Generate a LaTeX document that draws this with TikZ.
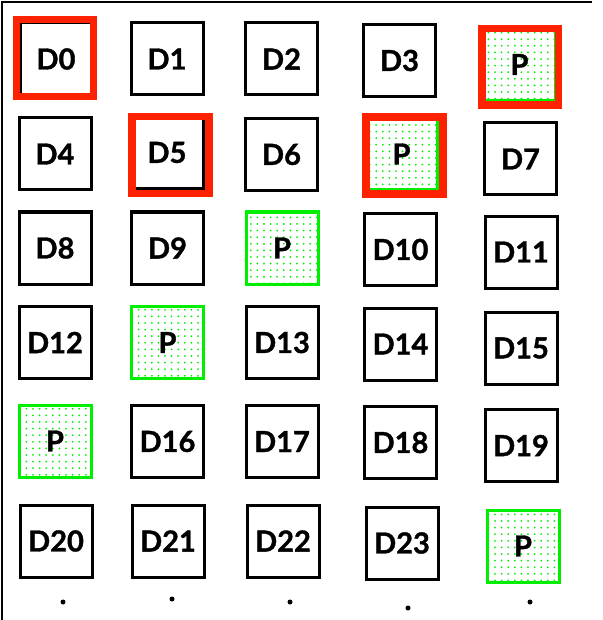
\documentclass[tikz,border=0pt]{standalone}
\usepackage{fontspec}
\setmainfont{Lato}[BoldFeatures={FakeBold=1.2}]
\usetikzlibrary{patterns}
\pgfdeclarepatternformonly{gdots}{\pgfqpoint{-1.2pt}{-1.2pt}}{\pgfqpoint{1.2pt}{1.2pt}}{\pgfqpoint{6.6pt}{6.6pt}}{\pgfpathcircle{\pgfqpoint{0pt}{0pt}}{1pt}\pgfusepath{fill}}
\definecolor{fred}{HTML}{FF2200}
\definecolor{fgreen}{HTML}{00EE00}
\tikzset{
  dbox/.style={draw=black, line width=3pt, minimum width=72pt, minimum height=72pt, inner sep=0pt, font=\fontsize{29}{29}\selectfont\bfseries, fill=white},
  pbox/.style={dbox, draw=fgreen, pattern=gdots, pattern color=fgreen},
  rframe/.style={draw=fred, line width=7.5pt, minimum width=77pt, minimum height=77pt, inner sep=0pt},
  frameline/.style={line width=2pt, draw=black},
  enddot/.style={circle, fill=black, inner sep=0pt, minimum size=5pt}
}
\begin{document}
\begin{tikzpicture}[x=1pt,y=-1pt]
\useasboundingbox (0,0) rectangle (602,620);
\coordinate (tl) at (2,2);
\coordinate (tr) at (592,2);
\coordinate (bl) at (2,620);
\draw[frameline] (tr) -- (tl) -- (bl);
% row 1
\node[dbox] (d0) at (56,59) {D0};
\node[dbox] (d1) at (167,59) {D1};
\node[dbox] (d2) at (281.5,59) {D2};
\node[dbox] (d3) at (399.5,60.5) {D3};
\node[pbox] (p0) at (519.5,64.5) {P};
% row 2
\node[dbox] (d4) at (55,154) {D4};
\node[dbox] (d5) at (167,152.5) {D5};
\node[dbox] (d6) at (281.5,154.5) {D6};
\node[pbox] (p1) at (401.5,154) {P};
\node[dbox] (d7) at (520.5,159) {D7};
% row 3
\node[dbox] (d8) at (55,248) {D8};
\node[dbox] (d9) at (167.5,248) {D9};
\node[pbox] (p2) at (282,248) {P};
\node[dbox] (d10) at (400.5,249.5) {D10};
\node[dbox] (d11) at (521,252) {D11};
% row 4
\node[dbox] (d12) at (55,342.5) {D12};
\node[pbox] (p3) at (167.5,342.5) {P};
\node[dbox] (d13) at (282,342.5) {D13};
\node[dbox] (d14) at (400.5,344) {D14};
\node[dbox] (d15) at (521,348) {D15};
% row 5
\node[pbox] (p4) at (55,441) {P};
\node[dbox] (d16) at (167.5,441.5) {D16};
\node[dbox] (d17) at (282,441.5) {D17};
\node[dbox] (d18) at (400.5,442.5) {D18};
\node[dbox] (d19) at (521,445.5) {D19};
% row 6
\node[dbox] (d20) at (56,541) {D20};
\node[dbox] (d21) at (168,541) {D21};
\node[dbox] (d22) at (283,541) {D22};
\node[dbox] (d23) at (402,543) {D23};
\node[pbox] (p5) at (523,546) {P};
% red frames
\node[rframe] (f0) at (54.75,58) {};
\node[rframe] (f1) at (170.5,155) {};
\node[rframe] (f2) at (404.5,155.5) {};
\node[rframe, minimum width=76.5pt, minimum height=76.5pt] (f3) at (520,67) {};
% dots
\node[enddot] (e0) at (63,602) {};
\node[enddot] (e1) at (172,599) {};
\node[enddot] (e2) at (290,602) {};
\node[enddot] (e3) at (408,608) {};
\node[enddot] (e4) at (530,602) {};
\end{tikzpicture}
\end{document}
